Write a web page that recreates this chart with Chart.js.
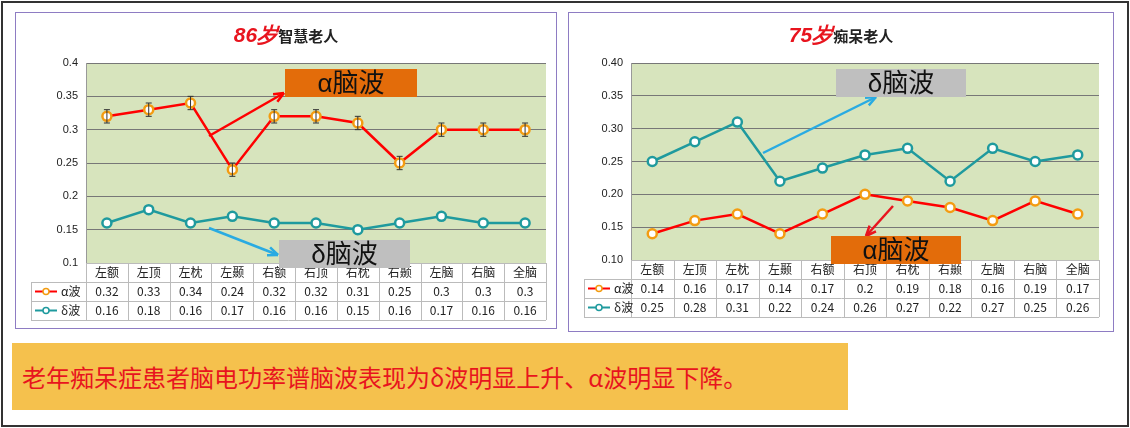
<!DOCTYPE html>
<html><head><meta charset="utf-8">
<script src="https://cdn.jsdelivr.net/npm/chart.js@4/dist/chart.umd.min.js"></script>
<style>
body{margin:0;width:1130px;height:428px;background:#fff;font-family:"Noto Sans CJK SC",sans-serif;position:relative;overflow:hidden}
#frame{position:absolute;left:1px;top:1px;width:1124px;height:422px;border:2px solid #333}
.panel{position:absolute;border:1px solid #8e7cc3;background:#fff}
.panel canvas{position:absolute;left:0;top:0}
.title{position:absolute;left:0;right:0;top:8px;text-align:center;font-size:15px;font-weight:bold;color:#222}
.title b{color:#e8141e;font-style:italic;font-size:21px;font-family:"Liberation Sans",sans-serif}
.lab{position:absolute;font-size:26px;color:#111;text-align:center;line-height:28px;font-family:"Liberation Sans","Noto Sans CJK SC",sans-serif}
#banner{position:absolute;left:12px;top:343px;width:836px;height:67px;background:#f5c14d;color:#e8141e;font-size:24px;line-height:67px;padding-left:10px;box-sizing:border-box;font-family:"Noto Sans CJK SC",serif}
</style></head><body>
<div id="frame"></div>
<div class="panel" style="left:15px;top:12px;width:540px;height:315px"><canvas id="c1" width="540" height="315"></canvas><div class="title"><b>86岁</b>智慧老人</div></div>
<div class="panel" style="left:568px;top:12px;width:544px;height:318px"><canvas id="c2" width="544" height="318"></canvas><div class="title"><b>75岁</b>痴呆老人</div></div>
<div class="lab" style="left:285px;top:69px;width:132px;background:#e36c0a">α脑波</div>
<div class="lab" style="left:279px;top:240px;width:131px;background:#bfbfbf">δ脑波</div>
<div class="lab" style="left:836px;top:69px;width:130px;background:#bfbfbf">δ脑波</div>
<div class="lab" style="left:831px;top:236px;width:130px;background:#e36c0a">α脑波</div>
<div id="banner">老年痴呆症患者脑电功率谱脑波表现为δ波明显上升、α波明显下降。</div>
<script>
const categories=["左额","左顶","左枕","左颞","右额","右顶","右枕","右颞","左脑","右脑","全脑"];
const alpha86=[0.32,0.33,0.34,0.24,0.32,0.32,0.31,0.25,0.3,0.3,0.3];
const delta86=[0.16,0.18,0.16,0.17,0.16,0.16,0.15,0.16,0.17,0.16,0.16];
const alpha75=[0.14,0.16,0.17,0.14,0.17,0.2,0.19,0.18,0.16,0.19,0.17];
const delta75=[0.25,0.28,0.31,0.22,0.24,0.26,0.27,0.22,0.27,0.25,0.26];
const errAlpha86=0.01;
const seriesNames=["α波","δ波"];

function arrow(ctx,x1,y1,x2,y2,col){
  ctx.save();ctx.strokeStyle=col;ctx.fillStyle=col;ctx.lineWidth=2.5;
  ctx.beginPath();ctx.moveTo(x1,y1);ctx.lineTo(x2,y2);ctx.stroke();
  const a=Math.atan2(y2-y1,x2-x1),L=11;
  ctx.beginPath();ctx.moveTo(x2,y2);ctx.lineTo(x2-L*Math.cos(a-0.4),y2-L*Math.sin(a-0.4));
  ctx.moveTo(x2,y2);ctx.lineTo(x2-L*Math.cos(a+0.4),y2-L*Math.sin(a+0.4));ctx.stroke();ctx.restore();
}
function makeChart(id,a,d,dec,opt){
  const rows=[a,d];
  const plugin={id:'p'+id,
    beforeDraw(ch){const {ctx,chartArea:c}=ch;ctx.save();ctx.fillStyle='#d7e4bd';ctx.fillRect(c.left,c.top,c.right-c.left,c.bottom-c.top);ctx.restore();},
    afterDatasetsDraw(ch){
      const ctx=ch.ctx,x=ch.scales.x,y=ch.scales.y;
      if(opt.err){ctx.save();ctx.strokeStyle='#333';ctx.lineWidth=1;
        a.forEach((v,i)=>{const px=x.getPixelForValue(i),t=y.getPixelForValue(v+opt.err),b=y.getPixelForValue(v-opt.err);
          ctx.beginPath();ctx.moveTo(px,t);ctx.lineTo(px,b);ctx.moveTo(px-3,t);ctx.lineTo(px+3,t);ctx.moveTo(px-3,b);ctx.lineTo(px+3,b);ctx.stroke();});
        ctx.restore();}
      opt.arrows.forEach(r=>arrow(ctx,...r));
    },
    afterDraw(ch){
      const ctx=ch.ctx,x=ch.scales.x,c=ch.chartArea,rh=opt.rh,w=(c.right-c.left)/categories.length;
      ctx.save();ctx.strokeStyle='#bbb';ctx.lineWidth=1;ctx.fillStyle='#222';ctx.font='12px "Noto Sans CJK SC"';ctx.textAlign='center';ctx.textBaseline='middle';
      const L=opt.tl;
      for(let r=0;r<=3;r++){const yy=c.bottom+r*rh+0.5;ctx.beginPath();ctx.moveTo(r==0?c.left:L,yy);ctx.lineTo(c.right,yy);ctx.stroke();}
      ctx.beginPath();ctx.moveTo(L+.5,c.bottom+rh);ctx.lineTo(L+.5,c.bottom+3*rh);ctx.stroke();
      for(let i=0;i<=categories.length;i++){const xx=Math.round(c.left+i*w)+.5;ctx.beginPath();ctx.moveTo(xx,c.bottom);ctx.lineTo(xx,c.bottom+3*rh);ctx.stroke();}
      categories.forEach((t,i)=>{const cx=x.getPixelForValue(i);ctx.fillText(t,cx,c.bottom+rh/2);
        rows.forEach((rw,j)=>ctx.fillText(dec?rw[i].toFixed(2).replace(/^(\d\.\d)0$/,'$1').replace(/^0\.20$/,'0.2'):String(rw[i]),cx,c.bottom+rh*(j+1.5)));});
      const cols=['#ff0000','#1f9a9e'],mk=['#f39c12','#1f9a9e'];
      seriesNames.forEach((n,j)=>{const yy=c.bottom+rh*(j+1.5),x0=L+4;
        ctx.strokeStyle=cols[j];ctx.lineWidth=2;ctx.beginPath();ctx.moveTo(x0,yy);ctx.lineTo(x0+22,yy);ctx.stroke();
        ctx.fillStyle='#fff';ctx.strokeStyle=mk[j];ctx.lineWidth=1.5;ctx.beginPath();ctx.arc(x0+11,yy,3,0,7);ctx.fill();ctx.stroke();
        ctx.fillStyle='#222';ctx.textAlign='left';ctx.fillText(n,x0+26,yy);ctx.textAlign='center';});
      ctx.restore();
    }};
  new Chart(document.getElementById(id),{type:'line',
    data:{labels:categories,datasets:[
      {data:a,borderColor:'#ff0000',borderWidth:2.5,pointBackgroundColor:'#fff',pointBorderColor:'#f39c12',pointBorderWidth:2.5,pointRadius:4.5,tension:0},
      {data:d,borderColor:'#1f9a9e',borderWidth:2.5,pointBackgroundColor:'#fff',pointBorderColor:'#1f9a9e',pointBorderWidth:2.5,pointRadius:4.5,tension:0}]},
    options:{responsive:false,animation:false,events:[],
      layout:{padding:{left:opt.pl,right:opt.pr,top:50,bottom:opt.pb}},
      plugins:{legend:{display:false},tooltip:{enabled:false}},
      scales:{x:{offset:true,grid:{display:false},border:{display:false},ticks:{display:false}},
        y:{min:0.1,max:0.4,afterFit:s=>{s.width=opt.yw},border:{color:'#999'},
          grid:{color:'#777',lineWidth:1,drawTicks:false,borderDash:[2,2]},
          ticks:{stepSize:0.05,padding:8,color:'#222',font:{size:11,family:'Liberation Sans'},
            callback:v=>dec?v.toFixed(2):String(+v.toFixed(2))}}}},
    plugins:[plugin]});
}
makeChart('c1',alpha86,delta86,false,{pl:30,pr:10,pb:57,yw:40,rh:19,tl:15,err:errAlpha86,
  arrows:[[193,123,268,80,'#ff0000'],[193,215,262,242,'#29abe2']]});
makeChart('c2',alpha75,delta75,true,{pl:20,pr:14,pb:63,yw:42,rh:19,tl:15,
  arrows:[[194,140,307,84,'#29abe2'],[324,193,297,223,'#e8141e']]});
</script>
</body></html>
